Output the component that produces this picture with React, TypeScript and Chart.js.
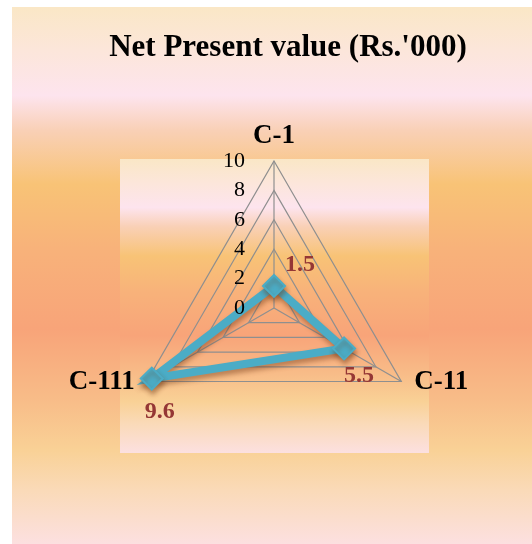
import React, { useEffect, useRef } from "react";
import { Chart, registerables } from "chart.js";

Chart.register(...registerables);

const titleText = "Net Present value (Rs.'000)";
const categories = ["C-1", "C-11", "C-111"];
const npvValues = [1.5, 5.5, 9.6];
const tickValues = [0, 2, 4, 6, 8, 10];

const SERIF = "'Liberation Serif', 'Times New Roman', serif";
const SERIES_COLOR = "#4BACC6";
const LABEL_COLOR = "#953735";

const gradStops: [number, string][] = [
  [0, "#FAE7C6"],
  [0.08, "#FCE6DA"],
  [0.165, "#FDE4EE"],
  [0.23, "#F9D0B6"],
  [0.33, "#F8C376"],
  [0.45, "#F8B27A"],
  [0.6, "#F8A479"],
  [0.73, "#F8BC88"],
  [0.825, "#F9D196"],
  [0.9, "#FADAB8"],
  [1, "#FCE0E0"],
];

function fillGradRect(ctx: CanvasRenderingContext2D, x: number, y: number, w: number, h: number) {
  const g = ctx.createLinearGradient(0, y, 0, y + h);
  gradStops.forEach(([o, c]) => g.addColorStop(o, c));
  ctx.fillStyle = g;
  ctx.fillRect(x, y, w, h);
}

const backgroundPlugin = {
  id: "bgPlugin",
  beforeDraw(chart: any) {
    const ctx = chart.ctx as CanvasRenderingContext2D;
    ctx.save();
    ctx.fillStyle = "#ffffff";
    ctx.fillRect(0, 0, chart.width, chart.height);
    fillGradRect(ctx, 12, 7, chart.width - 12, chart.height - 7);
    const s = chart.scales.r;
    const left = s.xCenter - 154;
    const top = s.yCenter - s.drawingArea - 2;
    fillGradRect(ctx, left, top, 309, 294);
    ctx.restore();
  },
};

const labelsPlugin = {
  id: "labelsPlugin",
  beforeDatasetsDraw(chart: any) {
    const ctx = chart.ctx as CanvasRenderingContext2D;
    const s = chart.scales.r;
    ctx.save();
    ctx.fillStyle = "#000";
    ctx.textBaseline = "middle";
    // axis (point) labels
    ctx.font = `bold 27px ${SERIF}`;
    categories.forEach((c, i) => {
      const p = s.getPointPosition(i, s.drawingArea);
      if (i === 0) {
        ctx.textAlign = "center";
        ctx.fillText(c, p.x, p.y - 25);
      } else if (i === 1) {
        ctx.textAlign = "left";
        ctx.fillText(c, p.x + 13, p.y + 1);
      } else {
        ctx.textAlign = "right";
        ctx.fillText(c, p.x - 12, p.y + 1);
      }
    });
    ctx.restore();
    // shadow for series
    ctx.save();
    ctx.shadowColor = "rgba(110,55,20,0.45)";
    ctx.shadowBlur = 5;
    ctx.shadowOffsetX = 1;
    ctx.shadowOffsetY = 4;
  },
  afterDatasetsDraw(chart: any) {
    const ctx = chart.ctx as CanvasRenderingContext2D;
    ctx.restore();
    const s = chart.scales.r;
    ctx.save();
    // tick labels
    ctx.font = `22px ${SERIF}`;
    ctx.fillStyle = "#000";
    ctx.textAlign = "right";
    ctx.textBaseline = "middle";
    tickValues.forEach((v) => {
      const d = s.getDistanceFromCenterForValue(v);
      ctx.fillText(String(v), s.xCenter - 29, s.yCenter - d);
    });
    // data labels
    const meta = chart.getDatasetMeta(0);
    ctx.font = `bold 24px ${SERIF}`;
    ctx.fillStyle = LABEL_COLOR;
    meta.data.forEach((pt: any, i: number) => {
      const txt = String(npvValues[i]);
      if (i === 0) {
        ctx.textAlign = "left";
        ctx.fillText(txt, pt.x + 11, pt.y - 21);
      } else if (i === 1) {
        ctx.textAlign = "center";
        ctx.fillText(txt, pt.x + 15, pt.y + 27);
      } else {
        ctx.textAlign = "center";
        ctx.fillText(txt, pt.x + 8, pt.y + 33);
      }
    });
    ctx.restore();
  },
};

export default function App() {
  const ref = useRef<HTMLCanvasElement | null>(null);
  useEffect(() => {
    if (!ref.current) return;
    const chart = new Chart(ref.current, {
      type: "radar",
      data: {
        labels: categories,
        datasets: [
          {
            label: "NPV",
            data: npvValues,
            borderColor: SERIES_COLOR,
            backgroundColor: "rgba(0,0,0,0)",
            borderWidth: 8,
            fill: false,
            pointStyle: "rectRot",
            pointRadius: 11,
            pointBorderWidth: 2,
            pointBackgroundColor: SERIES_COLOR,
            pointBorderColor: SERIES_COLOR,
          },
        ],
      },
      options: {
        responsive: false,
        animation: false,
        layout: { padding: { left: 44, top: 29, right: 0, bottom: 0 } },
        plugins: {
          legend: { display: false },
          tooltip: { enabled: false },
          title: {
            display: true,
            text: titleText,
            color: "#000",
            font: { family: SERIF, size: 31, weight: "bold" },
            padding: { top: 0, bottom: 0 },
          },
        },
        scales: {
          r: {
            min: 0,
            max: 10,
            ticks: { stepSize: 2, display: false },
            grid: { color: "#8f8f8f", lineWidth: 1.2 },
            angleLines: { color: "#8f8f8f", lineWidth: 1.2 },
            pointLabels: { display: false },
            afterFit: (s: any) => {
              s.xCenter = 274;
              s.yCenter = 308;
              s.drawingArea = 147;
            },
          },
        },
      } as any,
      plugins: [backgroundPlugin, labelsPlugin],
    });
    return () => chart.destroy();
  }, []);
  return (
    <div style={{ position: "absolute", left: 0, top: 0, width: 532, height: 544 }}>
      <canvas ref={ref} width={532} height={544} style={{ display: "block" }} />
    </div>
  );
}
